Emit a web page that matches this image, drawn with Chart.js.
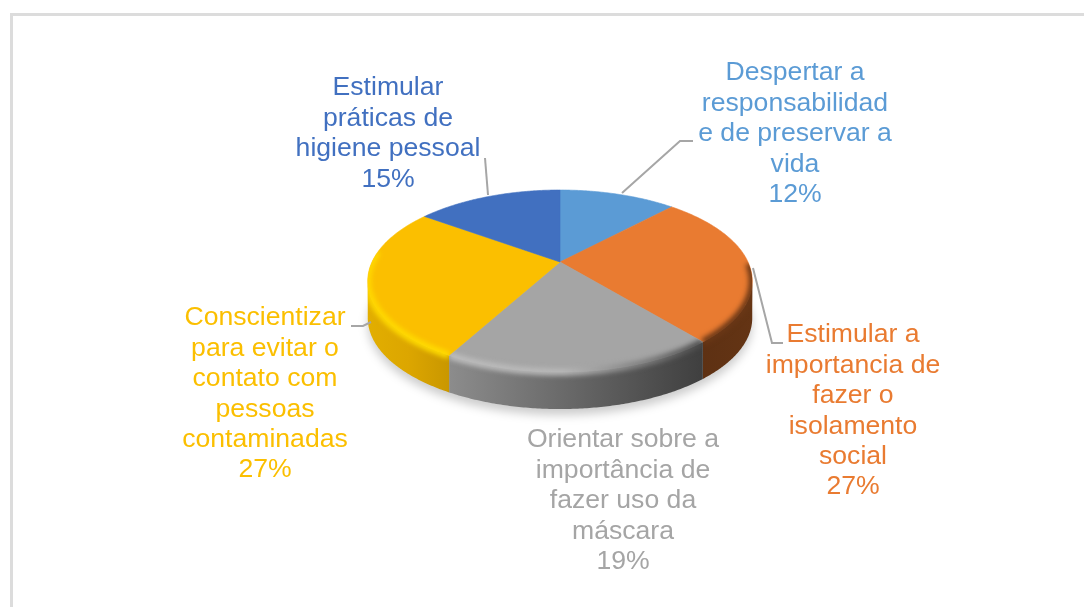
<!DOCTYPE html>
<html lang="pt">
<head>
    <meta charset="UTF-8">
    <title>Pizza 3D</title>
    <script src="https://cdn.jsdelivr.net/npm/chart.js"></script>
    <style>
        html, body { margin: 0; background: #fff; overflow: hidden; }
        .frame {
            position: absolute; left: 10px; top: 13px; width: 1300px; height: 800px;
            border: 3px solid #dcdcdc; box-sizing: border-box;
        }
        canvas { position: absolute; left: 0; top: 0; }
    </style>
</head>
<body>
    <div class="frame"></div>
    <div style="position:absolute;left:0;top:0;width:1084px;height:607px">
        <canvas id="chart" width="1084" height="607"></canvas>
    </div>
    <script>
        // Values
        const categories = [
            'Despertar a responsabilidade de preservar a vida',
            'Estimular a importancia de fazer o isolamento social',
            'Orientar sobre a importância de fazer uso da máscara',
            'Conscientizar para evitar o contato com pessoas contaminadas',
            'Estimular práticas de higiene pessoal'
        ];
        const values = [12, 27, 19, 27, 15];
        const labelLines = [
            ['Despertar a', 'responsabilidad', 'e de preservar a', 'vida'],
            ['Estimular a', 'importancia de', 'fazer o', 'isolamento', 'social'],
            ['Orientar sobre a', 'importância de', 'fazer uso da', 'máscara'],
            ['Conscientizar', 'para evitar o', 'contato com', 'pessoas', 'contaminadas'],
            ['Estimular', 'práticas de', 'higiene pessoal']
        ];
        const colors = ['#5B9BD5', '#E97B31', '#A5A5A5', '#FBBF00', '#4170C0'];

        // Look of the tilted pie
        const tilt = 0.463, persp = 0.209, depth = 37;
        const wallStops = [
            null,
            [[0, '#5e3113'], [1, '#643414']],
            [[0, '#8c8c8c'], [0.5, '#666666'], [1, '#3f3f3f']],
            [[0, '#e2ae00'], [0.5, '#dca600'], [1, '#c99700']],
            null
        ];
        const rimStops = [
            null,
            [[0, '#6a3716'], [1, '#6a3716']],
            [[0, '#bdbdbd'], [0.45, '#b8b8b8'], [0.8, '#777777'], [1, '#4a4a4a']],
            [[0, '#ffd800'], [1, '#ffdc00']],
            null
        ];
        // Label centres and leader lines, in page pixels
        const labelX = [795, 853, 623, 265, 388];
        const labelY = [73, 335, 440, 318, 88];
        const lineStep = 30.4;
        const leaders = [
            [[622, 193], [680, 141], [693, 141]],
            [[753, 268], [772, 343], [783, 343]],
            null,
            [[371, 322], [363, 326], [351, 326]],
            [[488, 195], [485, 158]]
        ];

        const project = (arc, a) => {
            const u = Math.cos(a), v = Math.sin(a);
            const s = 1 / (1 - persp * v);
            return [arc.x + arc.outerRadius * u * s, arc.y + arc.outerRadius * tilt * v * s];
        };

        const trace = (ctx, arc, from, to, dy, started) => {
            const n = Math.max(2, Math.ceil(Math.abs(to - from) / 0.01));
            for (let i = 0; i <= n; i++) {
                const p = project(arc, from + (to - from) * i / n);
                if (i === 0 && !started) ctx.moveTo(p[0], p[1] + dy);
                else ctx.lineTo(p[0], p[1] + dy);
            }
        };

        const facePath = (ctx, arc) => {
            ctx.beginPath();
            ctx.moveTo(arc.x, arc.y);
            trace(ctx, arc, arc.startAngle, arc.endAngle, 0, true);
            ctx.closePath();
        };

        const linear = (ctx, arc, from, to, stops) => {
            const a = project(arc, from), b = project(arc, to);
            const g = ctx.createLinearGradient(Math.min(a[0], b[0]), 0, Math.max(a[0], b[0]), 0);
            stops.forEach(s => g.addColorStop(s[0], s[1]));
            return g;
        };

        const pie3d = {
            id: 'pie3d',
            beforeDatasetDraw(chart, args) {
                const ctx = chart.ctx;
                const arcs = chart.getDatasetMeta(args.index).data;
                const edge = Math.asin(persp);
                const first = arcs[0];

                // soft shadow under the pie
                ctx.save();
                ctx.filter = 'blur(5px)';
                ctx.fillStyle = 'rgba(0,0,0,0.2)';
                ctx.beginPath();
                trace(ctx, first, 0, Math.PI * 2, depth + 6, false);
                ctx.closePath();
                ctx.fill();
                ctx.restore();

                // walls of the front slices
                arcs.forEach((arc, i) => {
                    const from = Math.max(arc.startAngle, edge);
                    const to = Math.min(arc.endAngle, Math.PI - edge);
                    if (to <= from || !wallStops[i]) return;
                    ctx.beginPath();
                    trace(ctx, arc, from, to, 0, false);
                    trace(ctx, arc, to, from, depth, true);
                    ctx.closePath();
                    ctx.fillStyle = linear(ctx, arc, from, to, wallStops[i]);
                    ctx.fill();
                });

                // flat top
                arcs.forEach((arc, i) => {
                    facePath(ctx, arc);
                    ctx.fillStyle = colors[i];
                    ctx.strokeStyle = colors[i];
                    ctx.lineWidth = 0.6;
                    ctx.fill();
                    ctx.stroke();
                });

                // bevel along the front rim, kept inside each slice
                arcs.forEach((arc, i) => {
                    if (!rimStops[i]) return;
                    const from = Math.max(arc.startAngle, 0.02);
                    const to = Math.min(arc.endAngle, Math.PI + 0.12);
                    const wallFrom = Math.max(arc.startAngle, edge);
                    const wallTo = Math.min(arc.endAngle, Math.PI - edge);
                    ctx.save();
                    ctx.beginPath();
                    ctx.moveTo(arc.x, arc.y);
                    trace(ctx, arc, arc.startAngle, arc.endAngle, 0, true);
                    ctx.closePath();
                    ctx.moveTo(project(arc, wallFrom)[0], project(arc, wallFrom)[1]);
                    trace(ctx, arc, wallFrom, wallTo, 0, true);
                    trace(ctx, arc, wallTo, wallFrom, depth, true);
                    ctx.closePath();
                    ctx.clip('nonzero');
                    ctx.filter = 'blur(2.5px)';
                    ctx.beginPath();
                    trace(ctx, arc, from, to, 0, false);
                    ctx.lineWidth = 7;
                    ctx.strokeStyle = linear(ctx, arc, wallFrom, wallTo, rimStops[i]);
                    ctx.stroke();
                    ctx.restore();
                });

                return false;
            },
            afterDatasetsDraw(chart) {
                const ctx = chart.ctx;
                ctx.save();
                ctx.strokeStyle = '#a6a6a6';
                ctx.lineWidth = 2;
                leaders.forEach(points => {
                    if (!points) return;
                    ctx.beginPath();
                    points.forEach((p, i) => i ? ctx.lineTo(p[0], p[1]) : ctx.moveTo(p[0], p[1]));
                    ctx.stroke();
                });
                ctx.font = '26.6px "Liberation Sans"';
                ctx.textAlign = 'center';
                ctx.textBaseline = 'middle';
                values.forEach((value, i) => {
                    ctx.fillStyle = colors[i];
                    const lines = labelLines[i].concat(value + '%');
                    lines.forEach((line, k) => ctx.fillText(line, labelX[i], labelY[i] + k * lineStep));
                });
                ctx.restore();
            }
        };

        new Chart(document.getElementById('chart'), {
            type: 'pie',
            data: {
                labels: categories,
                datasets: [{ data: values, backgroundColor: colors, borderWidth: 0 }]
            },
            options: {
                responsive: false,
                animation: false,
                layout: { padding: { left: 372, right: 336, top: 74, bottom: 157 } },
                plugins: { legend: { display: false }, tooltip: { enabled: false } }
            },
            plugins: [pie3d]
        });
    </script>
</body>
</html>
